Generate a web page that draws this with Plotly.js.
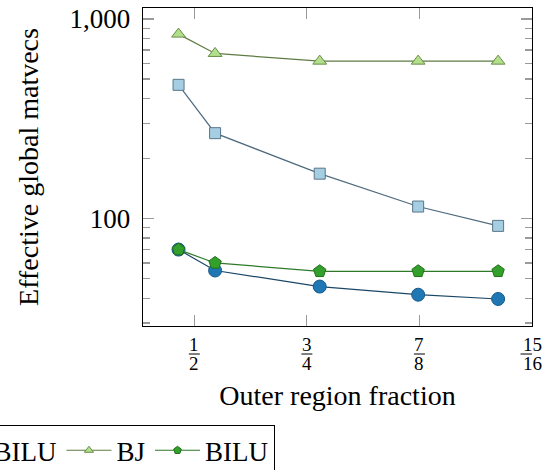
<!DOCTYPE html>
<html>
<head>
<meta charset="utf-8">
<script src="https://cdn.plot.ly/plotly-3.0.1.min.js"></script>
<style>
html,body{margin:0;padding:0;background:#fff;}
#chart{width:548px;height:470px;}
</style>
</head>
<body>
<div id="chart"></div>
<script>
// Outer region fraction of each run
const fractions = [0.449, 0.560, 0.769, 0.874, 0.923];
// Effective global matvecs per series
const bjSquares    = [468, 268, 168, 115, 92];
const biluCircles  = [70, 55, 45.7, 41.6, 39.6];
const bjTriangles  = [840, 672, 615, 615, 615];
const biluPentagons= [70, 60, 54.5, 54.5, 54.5];
// x tick labels
const tickFractions = [0.5, 0.75, 0.875, 0.9375];
const tickNum = ['1', '3', '7', '15'];
const tickDen = ['2', '4', '8', '16'];
const yTickVals = [100, 1000];
const yTickText = ['100', '1,000'];
const yMinor = [30,40,50,60,70,80,90,200,300,400,500,600,700,800,900];

const toAxis = f => -Math.log2(1 - f);
const xs = fractions.map(toAxis);
const tickPos = tickFractions.map(toAxis);

const FONT = '"Liberation Serif", "Times New Roman", serif';

const series = [
  {name:'BJ',   y: bjSquares,     symbol:'square',      size:11, fill:'#a6cee3', edge:'#587688', line:'#4f6b7e'},
  {name:'BILU', y: biluCircles,   symbol:'circle',      size:13, fill:'#1f78b4', edge:'#175a88', line:'#1b4767'},
  {name:'BJ',   y: bjTriangles,   symbol:'triangle-up', size:12, fill:'#b2df8a', edge:'#6a8c4a', line:'#5f7b44'},
  {name:'BILU', y: biluPentagons, symbol:'pentagon',    size:13, fill:'#33a02c', edge:'#21701c', line:'#2f7a29'}
];

const traces = [];
series.forEach(s => {
  traces.push({
    x: xs, y: s.y, type:'scatter', mode:'lines+markers', name:s.name, showlegend:false,
    line:{color:s.line, width:1.2},
    marker:{symbol:s.symbol, size:s.size, color:s.fill, line:{color:s.edge, width:1}}
  });
});
// legend entries (smaller markers, as in the reference)
series.forEach(s => {
  traces.push({
    x:[null], y:[null], type:'scatter', mode:'lines+markers', name:s.name, showlegend:true,
    line:{color:s.line, width:1.2},
    marker:{symbol:s.symbol, size:8, color:s.fill, line:{color:s.edge, width:1}}
  });
});

const annotations = [];
const shapes = [];
tickPos.forEach((p, i) => {
  annotations.push({x:p, xref:'x', y:0, yref:'paper', yanchor:'middle', yshift:-18, text:tickNum[i],
    showarrow:false, font:{family:FONT, size:19, color:'#000'}});
  annotations.push({x:p, xref:'x', y:0, yref:'paper', yanchor:'middle', yshift:-37, text:tickDen[i],
    showarrow:false, font:{family:FONT, size:19, color:'#000'}});
  const half = tickNum[i].length > 1 ? 11.5 : 5.5;
  shapes.push({type:'line', xref:'x', xsizemode:'pixel', xanchor:p, x0:-half, x1:half,
    yref:'paper', ysizemode:'pixel', yanchor:0, y0:-28, y1:-28, line:{color:'#000', width:1}});
});

const layout = {
  width:548, height:470,
  margin:{l:143, r:16, t:8, b:144, autoexpand:false},
  paper_bgcolor:'#fff', plot_bgcolor:'#fff',
  font:{family:FONT, size:27, color:'#000'},
  showlegend:true,
  legend:{orientation:'h', x:-0.756, xanchor:'left', y:-0.312, yanchor:'top', itemwidth:45,
    bordercolor:'#000', borderwidth:1, bgcolor:'#fff', font:{family:FONT, size:27, color:'#000'}},
  xaxis:{
    range:[0.544, 4.0], tickmode:'array', tickvals:tickPos, showticklabels:false,
    ticks:'inside', ticklen:11, tickwidth:1.2, tickcolor:'#9a9a9a',
    showline:true, linecolor:'#000', linewidth:1.3, mirror:'allticks',
    showgrid:false, zeroline:false,
    title:{text:'Outer region fraction', font:{family:FONT, size:28}, standoff:59}
  },
  yaxis:{
    type:'log', range:[Math.log10(29.0), Math.log10(1135)],
    tickmode:'array', tickvals:yTickVals, ticktext:yTickText,
    ticks:'inside', ticklen:11, tickwidth:1.2, tickcolor:'#9a9a9a',
    minor:{tickmode:'array', tickvals:yMinor, ticks:'inside', ticklen:7, tickwidth:1.2, tickcolor:'#9a9a9a', showgrid:false},
    showline:true, linecolor:'#000', linewidth:1.3, mirror:'allticks',
    showgrid:false, zeroline:false, ticklabelstandoff:6,
    tickfont:{family:FONT, size:27},
    title:{text:'Effective global matvecs', font:{family:FONT, size:28}, standoff:22}
  },
  annotations: annotations,
  shapes: shapes
};

Plotly.newPlot('chart', traces, layout, {staticPlot:true, displayModeBar:false});
</script>
</body>
</html>
